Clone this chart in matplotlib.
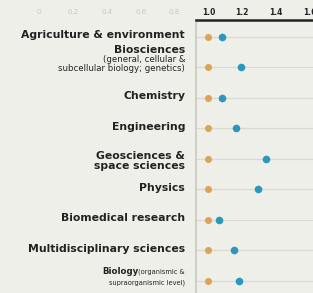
import matplotlib.pyplot as plt

# rows top to bottom
fields = [
    "Agriculture & environment",
    "Biosciences",
    "Chemistry",
    "Engineering",
    "Geosciences &\nspace sciences",
    "Physics",
    "Biomedical research",
    "Multidisciplinary sciences",
    "Biology",
]
baseline = [1.0, 1.0, 1.0, 1.0, 1.0, 1.0, 1.0, 1.0, 1.0]
ratio = [1.08, 1.19, 1.08, 1.16, 1.34, 1.29, 1.06, 1.15, 1.18]
faint_ticks = [0, 0.2, 0.4, 0.6, 0.8]
dark_ticks = [1.0, 1.2, 1.4, 1.6]

BG = "#efefe9"
ORANGE = "#dca456"
BLUE = "#2a97bd"
INK = "#222222"

fig = plt.figure(figsize=(3.13, 2.93), dpi=100, facecolor=BG)
ax = fig.add_axes([0, 0, 1, 1])
ax.set_facecolor(BG)
ax.set_xlim(-0.230, 1.617)
ax.set_ylim(8.403, -1.203)
ax.axis("off")

x0 = 0.927
rows = list(range(len(fields)))

# gridlines + frame
for r in rows:
    ax.plot([x0, 1.617], [r, r], color="#d9d9d2", lw=0.9, zorder=1)
ax.plot([x0, x0], [-0.548, 8.403], color="#c9c9c2", lw=1.2, zorder=1)
ax.plot([x0, 1.617], [-0.548, -0.548], color=INK, lw=1.8, zorder=2)

# dots
ax.scatter(baseline, rows, s=26, color=ORANGE, zorder=3, linewidths=0)
ax.scatter(ratio, rows, s=30, color=BLUE, zorder=4, linewidths=0)

# tick labels
for t in faint_ticks:
    ax.text(t, -0.8, f"{t:g}" if t == 0 else f"{t:.1f}", ha="center", va="center",
            fontsize=5, color="#c8c8c2")
for t in dark_ticks:
    ax.text(t, -0.8, f"{t:.1f}", ha="center", va="center",
            fontsize=5.5, color=INK, fontweight="bold")

# row labels
lx = 0.862
lab = dict(ha="right", color=INK, fontsize=7.8, fontweight="bold")
small = dict(ha="right", va="center", color=INK)
for r, name in enumerate(fields):
    if name == "Biosciences":
        ax.text(lx, r - 0.56, name, va="center", **lab)
        ax.text(lx, r - 0.26, "(general, cellular &", fontsize=6.2, **small)
        ax.text(lx, r + 0.03, "subcellular biology; genetics)", fontsize=6.2, **small)
    elif name == "Biology":
        ax.text(lx, r - 0.29, "(organismic &", fontsize=4.8, **small)
        ax.text(0.585, r - 0.31, "Biology", ha="right", va="center",
                fontsize=6.2, fontweight="bold", color=INK)
        ax.text(lx, r + 0.06, "supraorganismic level)", fontsize=4.8, **small)
    elif "\n" in name:
        ax.text(lx, r + 0.07, name, va="center", linespacing=1.05, **lab)
    else:
        ax.text(lx, r - 0.05, name, va="center", **lab)

fig.savefig("out.png", dpi=100, facecolor=BG)
